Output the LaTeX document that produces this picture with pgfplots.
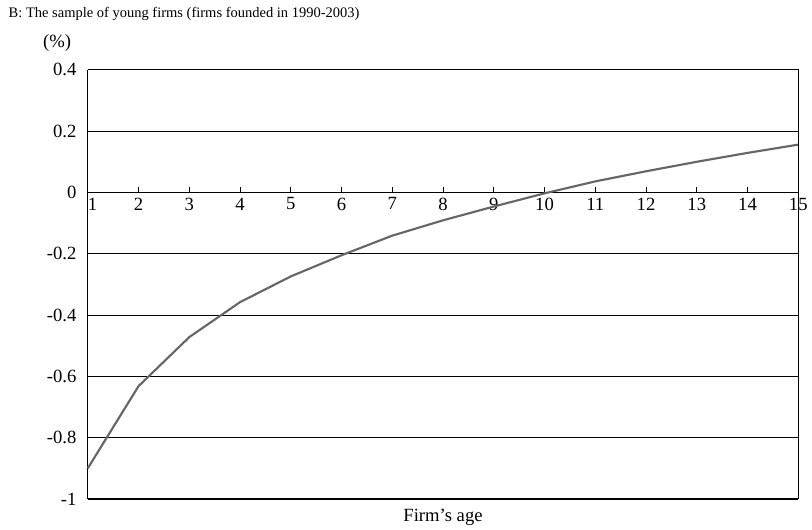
\documentclass[border=0pt]{standalone}
\usepackage{pgfplots}
\pgfplotsset{compat=1.18}
\usepackage{fontspec}
\setmainfont{Liberation Serif}
\begin{document}
\begin{tikzpicture}
\begin{axis}[
  scale only axis,
  width=534pt, height=322.5pt,
  xmin=1, xmax=15, ymin=-1, ymax=0.4,
  axis x line*=middle,
  axis y line*=left,
  hide obscured x ticks=false,
  xtick={1,...,15},
  ytick={-1,-0.8,...,0.4},
  yticklabels={-1,-0.8,-0.6,-0.4,-0.2,0,0.2,0.4},
  xticklabel={\ifnum\ticknum=0\hspace{7pt}\fi\pgfmathprintnumber{\tick}},
  ymajorgrids,
  major grid style={black, line width=0.6pt},
  tick style={black, line width=0.6pt},
  major tick length=4pt,
  xtick align=inside,
  ytick style={draw=none},
  x axis line style={-, line width=0.6pt},
  y axis line style={-, line width=0.9pt},
  tick label style={font=\fontsize{14pt}{16pt}\selectfont},
  xticklabel style={anchor=north, yshift=-0.5pt},
  yticklabel style={xshift=-5pt},
  /pgf/number format/assume math mode=true,
  clip=false,
]
\addplot[color=black!60, line width=1.6pt] coordinates {
(1,-0.900) (2,-0.632) (3,-0.472) (4,-0.358) (5,-0.274) (6,-0.205) (7,-0.141) (8,-0.091)
(9,-0.046) (10,-0.003) (11,0.036) (12,0.069) (13,0.100) (14,0.129) (15,0.156)};
\draw[line width=0.6pt] (rel axis cs:0,1) -- (rel axis cs:1,1) -- (rel axis cs:1,0);
\draw[line width=1.4pt] (rel axis cs:0,0) -- (rel axis cs:1,0);
\node[anchor=north, font=\fontsize{14pt}{16pt}\selectfont, yshift=-4pt] at (rel axis cs:0.5,0) {Firm’s age};
\node[anchor=base west, font=\fontsize{10.9pt}{13pt}\selectfont, xshift=-63pt, yshift=39.5pt] at (rel axis cs:0,1) {B: The sample of young firms (firms founded in 1990-2003)};
\node[anchor=base, font=\fontsize{14pt}{16pt}\selectfont, xshift=-23pt, yshift=17pt] at (rel axis cs:0,1) {(\%)};
\end{axis}
\useasboundingbox ([shift={(-66pt,-20.25pt)}]current axis.south west) rectangle ([shift={(9pt,52.5pt)}]current axis.north east);
\end{tikzpicture}
\end{document}
